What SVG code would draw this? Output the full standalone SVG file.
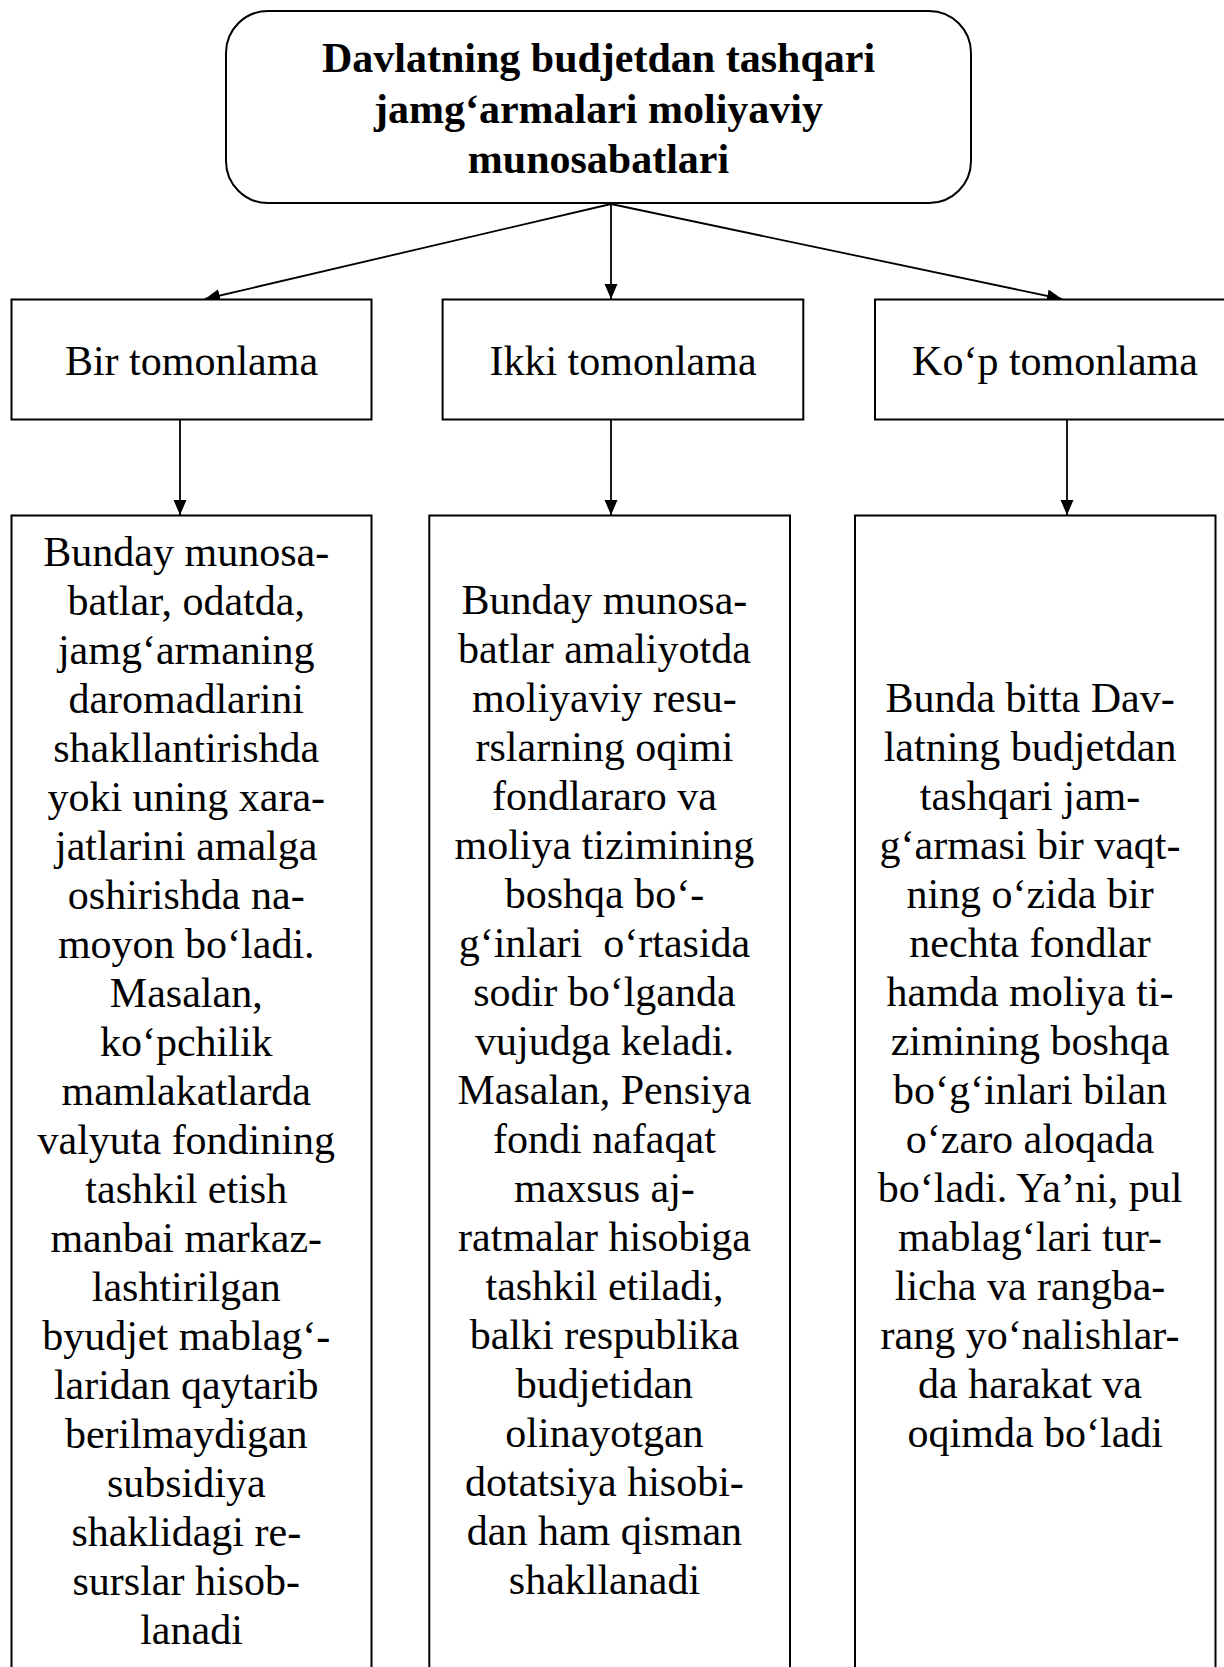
<svg xmlns="http://www.w3.org/2000/svg" width="1224" height="1667" viewBox="0 0 1224 1667">
<style>
.box{fill:#fff;stroke:#000;stroke-width:2}
.t{font-family:"Liberation Serif","Times New Roman",serif;font-size:42px;fill:#000;text-anchor:middle}
.tb{font-family:"Liberation Serif","Times New Roman",serif;font-size:42px;font-weight:bold;fill:#000;text-anchor:middle}
.c{stroke:#000;stroke-width:1.8;fill:none}
</style>
<defs>
<marker id="ah" markerUnits="userSpaceOnUse" markerWidth="16" markerHeight="14" refX="15" refY="6.5" orient="auto">
<path d="M0,0 L15,6.5 L0,13 z" fill="#000"/>
</marker>
</defs>
<rect width="1224" height="1667" fill="#fff"/>
<g id="connectors">
<line class="c" x1="611" y1="204" x2="205" y2="299" marker-end="url(#ah)"/>
<line class="c" x1="611" y1="204" x2="611" y2="299" marker-end="url(#ah)"/>
<line class="c" x1="611" y1="204" x2="1062" y2="299" marker-end="url(#ah)"/>
<line class="c" x1="180" y1="420" x2="180" y2="515" marker-end="url(#ah)"/>
<line class="c" x1="611" y1="420" x2="611" y2="515" marker-end="url(#ah)"/>
<line class="c" x1="1067" y1="420" x2="1067" y2="515" marker-end="url(#ah)"/>
</g>
<g id="root">
<rect class="box" x="226" y="11" width="745" height="192" rx="42" ry="42"/>
<text class="tb" x="598.5" y="72">Davlatning budjetdan tashqari</text>
<text class="tb" x="598.5" y="123">jamg‘armalari moliyaviy</text>
<text class="tb" x="598.5" y="173">munosabatlari</text>
</g>
<g id="bir">
<rect class="box" x="11.5" y="299.5" width="360" height="120"/>
<text class="t" x="191.5" y="375">Bir tomonlama</text>
</g>
<g id="ikki">
<rect class="box" x="442.6" y="299.5" width="360.7" height="120"/>
<text class="t" x="623" y="375">Ikki tomonlama</text>
</g>
<g id="kop">
<rect class="box" x="875" y="299.5" width="360" height="120"/>
<text class="t" x="1055" y="375">Ko‘p tomonlama</text>
</g>
<g id="bir-desc">
<rect class="box" x="11.5" y="515.5" width="360" height="1170"/>
<text class="t">
<tspan x="191.5" y="566">Bunday munosa-</tspan>
<tspan x="191.5" y="615">batlar, odatda,</tspan>
<tspan x="191.5" y="664">jamg‘armaning</tspan>
<tspan x="191.5" y="713">daromadlarini</tspan>
<tspan x="191.5" y="762">shakllantirishda</tspan>
<tspan x="191.5" y="811">yoki uning xara-</tspan>
<tspan x="191.5" y="860">jatlarini amalga</tspan>
<tspan x="191.5" y="909">oshirishda na-</tspan>
<tspan x="191.5" y="958">moyon bo‘ladi.</tspan>
<tspan x="191.5" y="1007">Masalan,</tspan>
<tspan x="191.5" y="1056">ko‘pchilik</tspan>
<tspan x="191.5" y="1105">mamlakatlarda</tspan>
<tspan x="191.5" y="1154">valyuta fondining</tspan>
<tspan x="191.5" y="1203">tashkil etish</tspan>
<tspan x="191.5" y="1252">manbai markaz-</tspan>
<tspan x="191.5" y="1301">lashtirilgan</tspan>
<tspan x="191.5" y="1350">byudjet mablag‘-</tspan>
<tspan x="191.5" y="1399">laridan qaytarib</tspan>
<tspan x="191.5" y="1448">berilmaydigan</tspan>
<tspan x="191.5" y="1497">subsidiya</tspan>
<tspan x="191.5" y="1546">shaklidagi re-</tspan>
<tspan x="191.5" y="1595">surslar hisob-</tspan>
<tspan x="191.5" y="1644">lanadi</tspan>
</text>
</g>
<g id="ikki-desc">
<rect class="box" x="429.3" y="515.5" width="360.7" height="1170"/>
<text class="t" xml:space="preserve">
<tspan x="609.7" y="614">Bunday munosa-</tspan>
<tspan x="609.7" y="663">batlar amaliyotda</tspan>
<tspan x="609.7" y="712">moliyaviy resu-</tspan>
<tspan x="609.7" y="761">rslarning oqimi</tspan>
<tspan x="609.7" y="810">fondlararo va</tspan>
<tspan x="609.7" y="859">moliya tizimining</tspan>
<tspan x="609.7" y="908">boshqa bo‘-</tspan>
<tspan x="609.7" y="957">g‘inlari  o‘rtasida</tspan>
<tspan x="609.7" y="1006">sodir bo‘lganda</tspan>
<tspan x="609.7" y="1055">vujudga keladi.</tspan>
<tspan x="609.7" y="1104">Masalan, Pensiya</tspan>
<tspan x="609.7" y="1153">fondi nafaqat</tspan>
<tspan x="609.7" y="1202">maxsus aj-</tspan>
<tspan x="609.7" y="1251">ratmalar hisobiga</tspan>
<tspan x="609.7" y="1300">tashkil etiladi,</tspan>
<tspan x="609.7" y="1349">balki respublika</tspan>
<tspan x="609.7" y="1398">budjetidan</tspan>
<tspan x="609.7" y="1447">olinayotgan</tspan>
<tspan x="609.7" y="1496">dotatsiya hisobi-</tspan>
<tspan x="609.7" y="1545">dan ham qisman</tspan>
<tspan x="609.7" y="1594">shakllanadi</tspan>
</text>
</g>
<g id="kop-desc">
<rect class="box" x="855" y="515.5" width="360.5" height="1170"/>
<text class="t">
<tspan x="1035.3" y="712">Bunda bitta Dav-</tspan>
<tspan x="1035.3" y="761">latning budjetdan</tspan>
<tspan x="1035.3" y="810">tashqari jam-</tspan>
<tspan x="1035.3" y="859">g‘armasi bir vaqt-</tspan>
<tspan x="1035.3" y="908">ning o‘zida bir</tspan>
<tspan x="1035.3" y="957">nechta fondlar</tspan>
<tspan x="1035.3" y="1006">hamda moliya ti-</tspan>
<tspan x="1035.3" y="1055">zimining boshqa</tspan>
<tspan x="1035.3" y="1104">bo‘g‘inlari bilan</tspan>
<tspan x="1035.3" y="1153">o‘zaro aloqada</tspan>
<tspan x="1035.3" y="1202">bo‘ladi. Ya’ni, pul</tspan>
<tspan x="1035.3" y="1251">mablag‘lari tur-</tspan>
<tspan x="1035.3" y="1300">licha va rangba-</tspan>
<tspan x="1035.3" y="1349">rang yo‘nalishlar-</tspan>
<tspan x="1035.3" y="1398">da harakat va</tspan>
<tspan x="1035.3" y="1447">oqimda bo‘ladi</tspan>
</text>
</g>
</svg>
